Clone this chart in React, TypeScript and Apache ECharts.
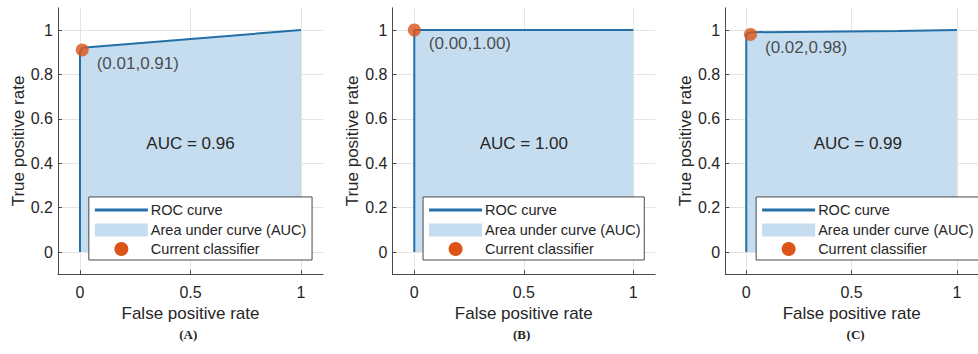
import React, { useEffect, useRef } from "react";
import * as echarts from "echarts";

// ---- data ----
const panelCaptions = ["(A)", "(B)", "(C)"];
const aucValues = ["0.96", "1.00", "0.99"];
const rocA: number[][] = [[0, 0], [0, 0.9], [0.01, 0.92], [1, 1]];
const rocB: number[][] = [[0, 0], [0, 1], [1, 1]];
const rocC: number[][] = [[0, 0], [0, 0.98], [0.02, 0.99], [0.72, 0.995], [1, 1]];
const rocCurves = [rocA, rocB, rocC];
const classifierPoints: number[][] = [[0.01, 0.91], [0.0, 1.0], [0.02, 0.98]];
const xTicks = [0, 0.5, 1];
const yTicks = [0, 0.2, 0.4, 0.6, 0.8, 1];
const legendLabels = ["ROC curve", "Area under curve (AUC)", "Current classifier"];
const xAxisTitle = "False positive rate";
const yAxisTitle = "True positive rate";

// ---- layout / style ----
const AX_MIN = -0.1;
const AX_MAX = 1.1;
const panels = [
  { left: 57.9, width: 265.2 },
  { left: 392.4, width: 262.8 },
  { left: 725.2, width: 265.2 },
];
const TOP = 7.8;
const HEIGHT = 266.4;
const FONT = '"Liberation Sans", Arial, sans-serif';
const LINE_COLOR = "#236fa6";
const FILL_COLOR = "#c6ddef";
const DOT_COLOR = "#dc5418";
const TEXT_COLOR = "#262626";
const GRID_COLOR = "#e4e4e4";
const AXIS_COLOR = "#4a4a4a";

function px(i: number, x: number, y: number): [number, number] {
  const p = panels[i];
  return [
    p.left + ((x - AX_MIN) / (AX_MAX - AX_MIN)) * p.width,
    TOP + ((AX_MAX - y) / (AX_MAX - AX_MIN)) * HEIGHT,
  ];
}

function buildOption() {
  const grid: any[] = [];
  const xAxis: any[] = [];
  const yAxis: any[] = [];
  const series: any[] = [];
  const graphic: any[] = [];

  panels.forEach((p, i) => {
    grid.push({ left: p.left, width: p.width, top: TOP, height: HEIGHT, containLabel: false });
    xAxis.push({
      type: "value",
      gridIndex: i,
      min: AX_MIN,
      max: AX_MAX,
      name: xAxisTitle,
      nameLocation: "middle",
      nameGap: 31,
      nameTextStyle: { fontFamily: FONT, fontSize: 17, color: TEXT_COLOR },
      axisLine: { show: true, onZero: false, lineStyle: { color: AXIS_COLOR, width: 1 } },
      axisTick: { show: true, inside: true, length: 4, customValues: xTicks, lineStyle: { color: AXIS_COLOR } },
      axisLabel: {
        customValues: xTicks,
        margin: 10,
        fontFamily: FONT,
        fontSize: 16,
        color: TEXT_COLOR,
        formatter: (v: number) => String(v),
      },
      splitLine: { show: true, lineStyle: { color: GRID_COLOR, width: 1 } },
    });
    yAxis.push({
      type: "value",
      gridIndex: i,
      min: AX_MIN,
      max: AX_MAX,
      name: yAxisTitle,
      nameLocation: "middle",
      nameRotate: 90,
      nameGap: 29,
      nameTextStyle: { fontFamily: FONT, fontSize: 17, color: TEXT_COLOR },
      axisLine: { show: true, onZero: false, lineStyle: { color: AXIS_COLOR, width: 1 } },
      axisTick: { show: true, inside: true, length: 4, customValues: yTicks, lineStyle: { color: AXIS_COLOR } },
      axisLabel: {
        customValues: yTicks,
        margin: 5,
        fontFamily: FONT,
        fontSize: 16,
        color: TEXT_COLOR,
        formatter: (v: number) => String(Math.round(v * 10) / 10),
      },
      splitLine: { show: true, lineStyle: { color: GRID_COLOR, width: 1 } },
    });

    series.push({
      type: "line",
      name: legendLabels[0],
      xAxisIndex: i,
      yAxisIndex: i,
      data: rocCurves[i],
      showSymbol: false,
      symbol: "none",
      lineStyle: { color: LINE_COLOR, width: 2 },
      areaStyle: { color: FILL_COLOR, opacity: 1 },
      z: 2,
    });
    const pt = classifierPoints[i];
    series.push({
      type: "scatter",
      name: legendLabels[2],
      xAxisIndex: i,
      yAxisIndex: i,
      data: [pt],
      symbol: "circle",
      symbolSize: 13,
      itemStyle: { color: DOT_COLOR },
      label: {
        show: true,
        position: [21, 20],
        align: "left",
        verticalAlign: "middle",
        fontFamily: FONT,
        fontSize: 17,
        color: TEXT_COLOR,
        formatter: () => `(${pt[0].toFixed(2)},${pt[1].toFixed(2)})`,
      },
      z: 5,
    });

    // AUC text
    const [ax, ay] = px(i, 0.5, 0.49);
    graphic.push({
      type: "text",
      x: ax,
      y: ay,
      z: 100,
      style: {
        text: `AUC = ${aucValues[i]}`,
        font: `17px ${FONT}`,
        fill: TEXT_COLOR,
        align: "center",
        verticalAlign: "middle",
      },
    });

    // legend box
    const [lx0, ly0] = px(i, 0.04, 0.248);
    const [lx1, ly1] = px(i, 1.05, -0.036);
    const [, r1] = px(i, 0, 0.189);
    const [, r2] = px(i, 0, 0.099);
    const [, r3] = px(i, 0, 0.0135);
    const sx0 = lx0 + 6;
    const sx1 = lx0 + 59;
    const tx = lx0 + 62;
    graphic.push({
      type: "rect",
      z: 100,
      shape: { x: lx0, y: ly0, width: lx1 - lx0, height: ly1 - ly0 },
      style: { fill: "#ffffff", stroke: AXIS_COLOR, lineWidth: 1 },
    });
    graphic.push({
      type: "line",
      z: 101,
      shape: { x1: sx0, y1: r1, x2: sx1, y2: r1 },
      style: { stroke: LINE_COLOR, lineWidth: 3 },
    });
    graphic.push({
      type: "rect",
      z: 101,
      shape: { x: sx0, y: r2 - 6.5, width: sx1 - sx0, height: 13 },
      style: { fill: FILL_COLOR },
    });
    graphic.push({
      type: "circle",
      z: 101,
      shape: { cx: (sx0 + sx1) / 2, cy: r3, r: 7 },
      style: { fill: DOT_COLOR },
    });
    [r1, r2, r3].forEach((ry, k) => {
      graphic.push({
        type: "text",
        z: 101,
        x: tx,
        y: ry,
        style: {
          text: legendLabels[k],
          font: `14.5px ${FONT}`,
          fill: TEXT_COLOR,
          align: "left",
          verticalAlign: "middle",
        },
      });
    });

    // caption
    const [cx] = px(i, 0.49, 0);
    graphic.push({
      type: "text",
      x: cx,
      y: 334,
      z: 100,
      style: {
        text: panelCaptions[i],
        font: `bold 13px "Liberation Serif", "Times New Roman", serif`,
        fill: TEXT_COLOR,
        align: "center",
        verticalAlign: "middle",
      },
    });
  });

  return {
    animation: false,
    backgroundColor: "#ffffff",
    grid,
    xAxis,
    yAxis,
    series,
    graphic: { elements: graphic, z: 50 } as any,
  };
}

export default function App() {
  const ref = useRef<HTMLDivElement>(null);
  useEffect(() => {
    if (!ref.current) return;
    const chart = echarts.init(ref.current, undefined, { renderer: "svg" });
    chart.setOption(buildOption() as any);
    return () => chart.dispose();
  }, []);
  return (
    <div
      ref={ref}
      style={{ position: "absolute", left: 0, top: 0, width: 978, height: 354, background: "#fff" }}
    />
  );
}
